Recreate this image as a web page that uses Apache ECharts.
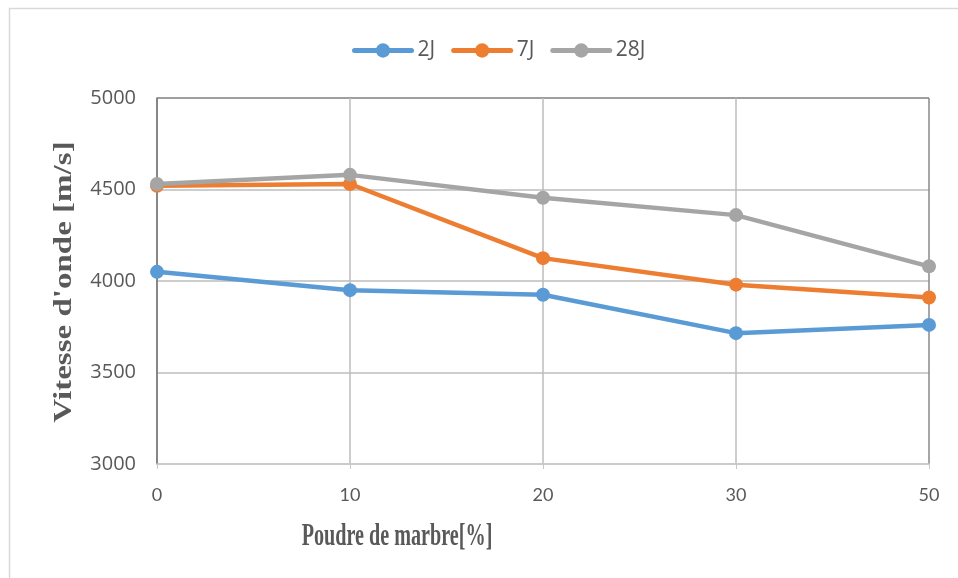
<!DOCTYPE html>
<html>
<head>
<meta charset="utf-8">
<script src="https://cdn.jsdelivr.net/npm/echarts@6/dist/echarts.min.js"></script>
<style>
  html, body { margin: 0; padding: 0; background: #fff; }
  #chart { width: 958px; height: 578px; }
</style>
</head>
<body>
<div id="chart"></div>
<script>
// Marble powder content (%) and measured wave velocity (m/s) at each curing age
const categories = ['0', '10', '20', '30', '50'];
const series2J = [4050, 3950, 3925, 3715, 3760];
const series7J = [4520, 4530, 4125, 3980, 3910];
const series28J = [4530, 4580, 4455, 4360, 4080];
const yTicks = { min: 3000, max: 5000, interval: 500 };

const colors = { '2J': '#5B9BD5', '7J': '#ED7D31', '28J': '#A5A5A5' };

function lineSeries(name, data) {
  return {
    name: name,
    type: 'line',
    data: data,
    symbol: 'circle',
    symbolSize: 14,
    lineStyle: { width: 4.5, color: colors[name] },
    itemStyle: { color: colors[name] },
    emphasis: { disabled: true },
    animation: false
  };
}

const chart = echarts.init(document.getElementById('chart'), null, { renderer: 'canvas' });
chart.setOption({
  backgroundColor: '#ffffff',
  animation: false,
  color: [colors['2J'], colors['7J'], colors['28J']],
  legend: {
    top: 35,
    left: 347,
    itemWidth: 57,
    itemHeight: 18,
    itemGap: 16,
    lineStyle: { width: 5, cap: 'round' },
    textStyle: { fontFamily: 'Open Sans', fontSize: 21, color: '#595959', padding: [0, 0, 0, 1] },
    data: ['2J', '7J', '28J']
  },
  grid: { left: 157, right: 29, top: 98, bottom: 114, containLabel: false },
  xAxis: {
    type: 'category',
    data: categories,
    boundaryGap: false,
    axisLine: { show: true, lineStyle: { color: '#C8C8C8', width: 1.5 } },
    axisTick: { show: true, length: 5, lineStyle: { color: '#C8C8C8' } },
    axisLabel: { fontFamily: 'Lato', fontSize: 18, color: '#595959', margin: 22 },
    splitLine: {
      show: true,
      lineStyle: { color: ['#7F7F7F', '#BDBDBD', '#BDBDBD', '#BDBDBD', '#888888'], width: 1.5 }
    }
  },
  yAxis: {
    type: 'value',
    min: yTicks.min,
    max: yTicks.max,
    interval: yTicks.interval,
    axisLine: { show: true, lineStyle: { color: '#7F7F7F', width: 1.5 } },
    axisTick: { show: false },
    axisLabel: {
      fontFamily: 'Open Sans', fontSize: 20, color: '#595959', margin: 21,
      formatter: function (v) { return String(v); }
    },
    splitLine: {
      show: true,
      lineStyle: { color: ['#C8C8C8', '#BDBDBD', '#BDBDBD', '#BDBDBD', '#7F7F7F'], width: 1.5 }
    }
  },
  graphic: [
    {
      type: 'rect',
      silent: true,
      shape: { x: 9.5, y: 8.5, width: 1000, height: 1000 },
      style: { fill: 'none', stroke: '#D9D9D9', lineWidth: 1.5 },
      z: -1
    },
    {
      type: 'text',
      silent: true,
      x: 397,
      y: 537,
      scaleX: 0.63,
      style: {
        text: 'Poudre de marbre[%]',
        fontFamily: 'Liberation Serif',
        fontWeight: 'bold',
        fontSize: 32,
        fill: '#595959',
        align: 'center',
        verticalAlign: 'middle'
      }
    },
    {
      type: 'text',
      silent: true,
      x: 64,
      y: 282,
      rotation: Math.PI / 2,
      scaleX: 1.27,
      style: {
        text: "Vitesse d'onde [m/s]",
        fontFamily: 'Liberation Serif',
        fontWeight: 'bold',
        fontSize: 26,
        fill: '#595959',
        align: 'center',
        verticalAlign: 'middle'
      }
    }
  ],
  series: [
    lineSeries('2J', series2J),
    lineSeries('7J', series7J),
    lineSeries('28J', series28J)
  ]
});
</script>
</body>
</html>
